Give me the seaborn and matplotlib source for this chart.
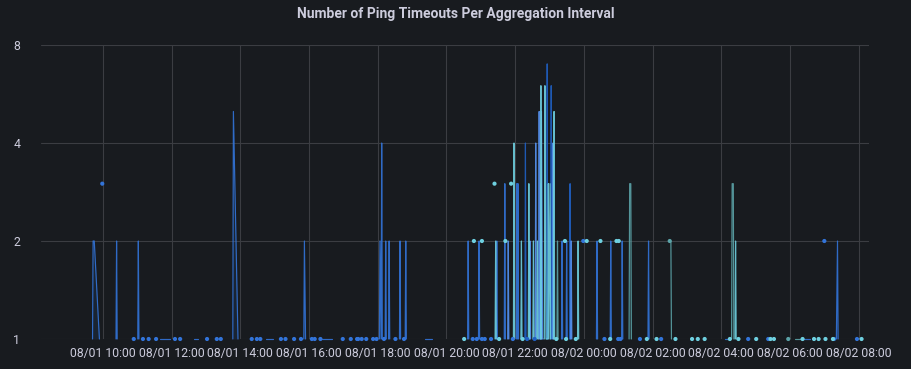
import pandas as pd
import matplotlib
matplotlib.use("Agg")
import matplotlib.pyplot as plt
import matplotlib.dates as mdates
import seaborn as sns

# Samples per series; None marks a gap between connected runs
blue_time = [
    "08/01 09:42", "08/01 09:43", "08/01 09:45", "08/01 09:54", None,
    "08/01 09:59", None,
    "08/01 10:23", "08/01 10:24", "08/01 10:25", None,
    "08/01 10:54", None,
    "08/01 11:01", "08/01 11:02", "08/01 11:03", None,
    "08/01 11:10", None, "08/01 11:20", None, "08/01 11:33", None,
    "08/01 11:40", "08/01 11:57", None,
    "08/01 12:06", None, "08/01 12:15", None,
    "08/01 12:39", "08/01 12:46", None,
    "08/01 13:02", None, "08/01 13:19", None, "08/01 13:26", None,
    "08/01 13:47", "08/01 13:48", "08/01 13:56", None,
    "08/01 14:20", None, "08/01 14:29", None, "08/01 14:35", None,
    "08/01 14:45", "08/01 14:57", None,
    "08/01 15:11", None, "08/01 15:19", None, "08/01 15:34", None, "08/01 15:46", None,
    "08/01 15:51", "08/01 15:52", "08/01 15:54", None,
    "08/01 16:05", None, "08/01 16:10", None, "08/01 16:20", None,
    "08/01 16:23", "08/01 16:40", None,
    "08/01 16:59", None, "08/01 17:13", None, "08/01 17:24", None,
    "08/01 17:26", None, "08/01 17:32", None, "08/01 17:40", None,
    "08/01 17:52", None, "08/01 17:58", None,
    "08/01 18:03", "08/01 18:04", "08/01 18:06", "08/01 18:07", "08/01 18:08", None,
    "08/01 18:11", None,
    "08/01 18:13", "08/01 18:14", "08/01 18:15", None,
    "08/01 18:19", "08/01 18:20", "08/01 18:21", None,
    "08/01 18:31", None,
    "08/01 18:38", "08/01 18:39", "08/01 18:40", None,
    "08/01 18:46", None,
    "08/01 18:48", "08/01 18:49", "08/01 18:50", None,
    "08/01 19:23", "08/01 19:35", None,
    "08/01 20:37", "08/01 20:38", "08/01 20:39", None,
    "08/01 20:46", None, "08/01 20:53", None,
    "08/01 20:56", "08/01 20:57", "08/01 20:58", None,
    "08/01 21:02", None, "08/01 21:07", None, "08/01 21:18", None,
    "08/01 21:27", "08/01 21:28", "08/01 21:29", None,
    "08/01 21:41", "08/01 21:42", "08/01 21:43", None,
    "08/01 21:56", None,
    "08/01 22:02", "08/01 22:03", "08/01 22:04", "08/01 22:05", "08/01 22:06", None,
    "08/01 22:44", "08/01 22:45", "08/01 22:46", None,
    "08/01 23:21", "08/01 23:22", "08/01 23:23", None,
    "08/01 23:29", "08/01 23:30", "08/01 23:31", None,
    "08/01 23:59", None,
    "08/02 00:22", "08/02 00:23", "08/02 00:24", None,
    "08/02 00:36", None,
    "08/02 00:46", "08/02 00:47", "08/02 00:48", None,
    "08/02 01:00", None, "08/02 01:04", None,
    "08/02 01:06", "08/02 01:07", "08/02 01:08", None,
    "08/02 01:38", None,
    "08/02 01:52", "08/02 01:53", "08/02 01:54", None,
    "08/02 02:15", None,
    "08/02 04:07", "08/02 04:15", None,
    "08/02 04:47", None, "08/02 05:22", None,
    "08/02 06:20", "08/02 06:35", None,
    "08/02 07:00", None, "08/02 07:17", None,
    "08/02 07:21", "08/02 07:23", "08/02 07:24", None,
    "08/02 07:57",
]
blue_count = [
    1, 2, 2, 1, None,
    3, None,
    1, 2, 1, None,
    1, None,
    1, 2, 1, None,
    1, None, 1, None, 1, None,
    1, 1, None,
    1, None, 1, None,
    1, 1, None,
    1, None, 1, None, 1, None,
    1, 5, 1, None,
    1, None, 1, None, 1, None,
    1, 1, None,
    1, None, 1, None, 1, None, 1, None,
    1, 2, 1, None,
    1, None, 1, None, 1, None,
    1, 1, None,
    1, None, 1, None, 1, None,
    1, None, 1, None, 1, None,
    1, None, 1, None,
    1, 2, 1, 4, 1, None,
    1, None,
    1, 2, 1, None,
    1, 2, 1, None,
    1, None,
    1, 2, 1, None,
    1, None,
    1, 2, 1, None,
    1, 1, None,
    1, 2, 1, None,
    1, None, 1, None,
    1, 2, 1, None,
    1, None, 1, None, 1, None,
    1, 2, 1, None,
    1, 3, 1, None,
    1, None,
    1, 3, 1, 3, 1, None,
    1, 3, 1, None,
    1, 2, 1, None,
    1, 2, 1, None,
    2, None,
    1, 2, 1, None,
    1, None,
    1, 2, 1, None,
    1, None, 1, None,
    1, 2, 1, None,
    1, None,
    1, 2, 1, None,
    1, None,
    1, 1, None,
    1, None, 1, None,
    1, 1, None,
    2, None, 1, None,
    1, 2, 1, None,
    1,
]

darkblue_time = [
    "08/01 22:17", "08/01 22:18", "08/01 22:19", None,
    "08/01 22:55", "08/01 22:56", "08/01 22:57", None,
    "08/01 23:02", "08/01 23:03", "08/01 23:04", None,
    "08/01 23:35", "08/01 23:36", "08/01 23:37", None,
    "08/01 22:21", None, "08/01 22:34", None,
]
darkblue_count = [
    1, 4, 1, None,
    1, 7, 1, None,
    1, 6, 1, None,
    1, 3, 1, None,
    1, None, 1, None,
]

lightblue_time = [
    "08/01 21:47", "08/01 21:48", "08/01 21:49", None,
    "08/01 22:25", "08/01 22:26", "08/01 22:27", None,
    "08/01 22:35", "08/01 22:36", "08/01 22:37", None,
    "08/01 22:41", "08/01 22:42", "08/01 22:43", "08/01 22:45",
    "08/01 22:46", "08/01 22:48", "08/01 22:49", None,
    "08/01 23:05", "08/01 23:06", "08/01 23:07", None,
    "08/01 23:37", "08/01 23:38", "08/01 23:39", None,
]
lightblue_count = [
    1, 2, 1, None,
    1, 2, 1, None,
    1, 4, 1, None,
    1, 5, 1, 1,
    5, 1, 1, None,
    1, 4, 1, None,
    1, 2, 1, None,
]

cyan_time = [
    "08/01 20:31", None, "08/01 20:48", None, "08/01 21:02", None,
    "08/01 21:24", None,
    "08/01 21:25", "08/01 21:26", "08/01 21:27", None,
    "08/01 21:32", None, "08/01 21:43", None, "08/01 21:53", None,
    "08/01 21:57", "08/01 21:58", "08/01 21:59", None,
    "08/01 22:10", "08/01 22:11", "08/01 22:12", None,
    "08/01 22:13", None,
    "08/01 22:23", "08/01 22:24", "08/01 22:25", None,
    "08/01 22:31", "08/01 22:32", "08/01 22:33", None,
    "08/01 22:38", "08/01 22:39", "08/01 22:40", None,
    "08/01 22:44", "08/01 22:45", "08/01 22:46", None,
    "08/01 22:51", "08/01 22:52", "08/01 22:53", "08/01 22:54",
    "08/01 22:57", "08/01 22:58", "08/01 22:59",
    "08/01 23:01", "08/01 23:02", None,
    "08/01 23:07", "08/01 23:08", "08/01 23:09", None,
    "08/01 23:12", None, "08/01 23:27", None, "08/01 23:29", None,
    "08/01 23:46", None,
    "08/01 23:49", "08/01 23:50", "08/01 23:51", None,
    "08/02 00:05", None, "08/02 00:29", None, "08/02 00:46", None,
    "08/02 00:57", None, "08/02 01:01", None, "08/02 01:50", None,
    "08/02 02:07", None, "08/02 02:40", None, "08/02 03:09", None,
    "08/02 03:19", None, "08/02 03:31", None, "08/02 04:15", None,
    "08/02 04:24", "08/02 04:25", "08/02 04:26", None,
    "08/02 04:30", None, "08/02 05:01", None, "08/02 05:26", None,
    "08/02 05:32", None, "08/02 06:22", None, "08/02 06:42", None,
    "08/02 06:50", None, "08/02 07:02", None, "08/02 07:15", None,
    "08/02 08:05",
]
cyan_count = [
    1, None, 2, None, 2, None,
    3, None,
    1, 2, 1, None,
    1, None, 2, None, 3, None,
    1, 4, 1, None,
    1, 2, 1, None,
    1, None,
    1, 3, 1, None,
    1, 2, 1, None,
    1, 2, 1, None,
    1, 6, 1, None,
    1, 6, 3, 1,
    1, 3, 1,
    3, 1, None,
    1, 5, 1, None,
    1, None, 2, None, 1, None,
    1, None,
    1, 2, 1, None,
    2, None, 2, None, 1, None,
    2, None, 2, None, 1, None,
    1, None, 1, None, 1, None,
    1, None, 1, None, 1, None,
    1, 2, 1, None,
    1, None, 1, None, 1, None,
    1, None, 1, None, 1, None,
    1, None, 1, None, 1, None,
    1,
]

teal_time = [
    "08/01 23:13", "08/01 23:14", "08/01 23:15", None,
    "08/02 01:19", "08/02 01:20", "08/02 01:22", "08/02 01:23", None,
    "08/02 02:30", None,
    "08/02 02:31", "08/02 02:32", "08/02 02:33", None,
    "08/02 04:18", "08/02 04:19", "08/02 04:21", "08/02 04:22", None,
    "08/02 05:57", None,
    "08/02 06:09", "08/02 06:20", None,
]
teal_count = [
    1, 2, 1, None,
    1, 3, 3, 1, None,
    2, None,
    2, 2, 1, None,
    1, 3, 3, 1, None,
    1, None,
    1, 1, None,
]

series_colors = {
    "blue": "#3274D9",
    "darkblue": "#1F60C4",
    "lightblue": "#5794F2",
    "cyan": "#6ED0E0",
    "teal": "#5BA3A8",
}


def to_frame(name, times, counts):
    rows = []
    run = 0
    for t, c in zip(times, counts):
        if t is None:
            run += 1
            continue
        rows.append((name, f"{name}-{run}", pd.to_datetime("2023/" + t, format="%Y/%m/%d %H:%M"), c))
    return pd.DataFrame(rows, columns=["series", "run", "time", "count"])


df = pd.concat([
    to_frame("blue", blue_time, blue_count),
    to_frame("darkblue", darkblue_time, darkblue_count),
    to_frame("lightblue", lightblue_time, lightblue_count),
    to_frame("teal", teal_time, teal_count),
    to_frame("cyan", cyan_time, cyan_count),
], ignore_index=True)

run_size = df.groupby("run")["time"].transform("size")
df_lines = df[run_size > 1]
df_dots = df[run_size == 1]

bg = "#181b1f"
text_color = "#ccccdc"
grid_color = "#3b3d42"

sns.set_theme(style="dark")
plt.rcParams["font.family"] = ["Roboto", "DejaVu Sans"]

fig = plt.figure(figsize=(9.11, 3.69), dpi=100, facecolor=bg)
ax = fig.add_axes([41 / 911, 30 / 369, 828 / 911, 294 / 369])
ax.set_facecolor(bg)

# faint fill under each connected run
for run, g in df_lines.groupby("run", sort=False):
    ax.fill_between(g["time"], 1, g["count"], color=series_colors[g["series"].iloc[0]],
                    alpha=0.1, linewidth=0)

sns.lineplot(data=df_lines, x="time", y="count", hue="series", units="run",
             estimator=None, palette=series_colors, linewidth=0.85, alpha=0.9,
             legend=False, ax=ax, clip_on=False, sort=False)
sns.scatterplot(data=df_dots, x="time", y="count", hue="series", palette=series_colors,
                s=9, linewidth=0, legend=False, ax=ax, clip_on=False, zorder=3)

ax.set_yscale("log", base=2)
ax.set_ylim(1, 8)
ax.set_yticks([1, 2, 4, 8])
ax.set_yticklabels(["1", "2", "4", "8"])
ax.yaxis.set_minor_locator(matplotlib.ticker.NullLocator())

ax.set_xlim(pd.Timestamp("2023-08-01 08:12"), pd.Timestamp("2023-08-02 08:18"))
ax.xaxis.set_major_locator(mdates.HourLocator(byhour=range(0, 24, 2)))
ax.xaxis.set_major_formatter(mdates.DateFormatter("%m/%d %H:%M"))

ax.grid(True, color=grid_color, linewidth=0.8)
ax.set_axisbelow(True)
for s in ax.spines.values():
    s.set_visible(False)
ax.tick_params(axis="both", length=0, colors=text_color, labelsize=8.8)
ax.tick_params(axis="x", pad=6)
ax.tick_params(axis="y", pad=20)
for lbl in ax.get_yticklabels():
    lbl.set_horizontalalignment("left")
ax.set_xlabel("")
ax.set_ylabel("")

fig.text(0.5, 1 - 14 / 369, "Number of Ping Timeouts Per Aggregation Interval",
         ha="center", va="center", color=text_color, fontsize=10, fontweight="semibold")

fig.savefig("out.png", dpi=100, facecolor=bg)
